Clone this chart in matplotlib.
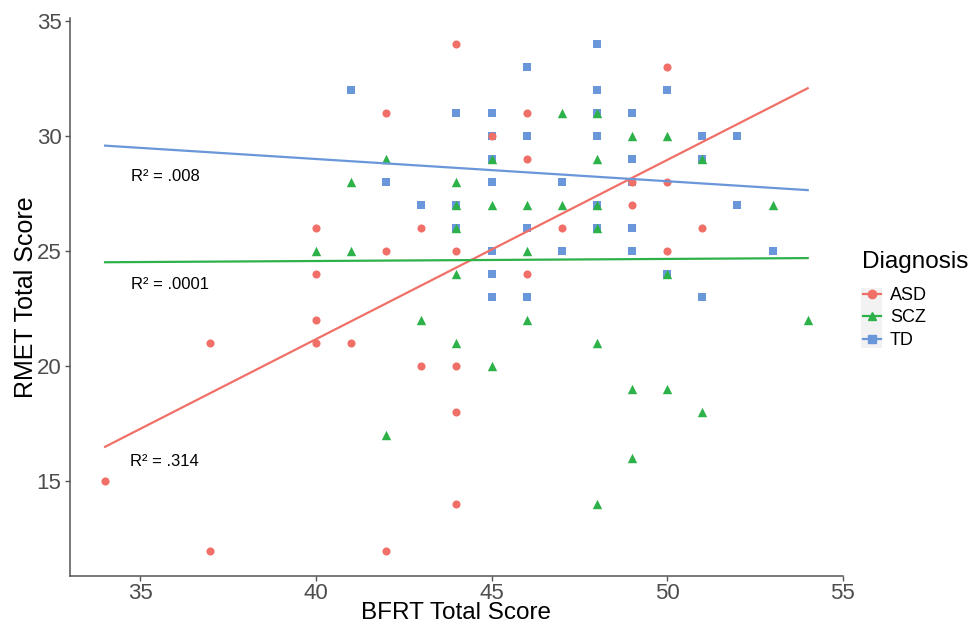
import numpy as np
import matplotlib
matplotlib.use("Agg")
import matplotlib.pyplot as plt
from matplotlib.lines import Line2D
from matplotlib.patches import Rectangle

plt.rcParams['font.family'] = ['Liberation Sans', 'DejaVu Sans']

# BFRT (x) / RMET (y) scores, per diagnosis group
asd_x = [34, 37, 37, 40, 40, 40, 40, 41, 42, 42, 42, 43, 43, 44, 44, 44, 44, 44,
         45, 46, 46, 46, 47, 49, 49, 50, 50, 50, 51]
asd_y = [15, 21, 12, 26, 24, 22, 21, 21, 31, 25, 12, 26, 20, 34, 25, 20, 18, 14,
         30, 31, 29, 24, 26, 28, 27, 33, 28, 25, 26]

scz_x = [40, 41, 41, 42, 42, 43, 44, 44, 44, 44, 44, 45, 45, 45, 46, 46, 46, 47,
         47, 48, 48, 48, 48, 48, 48, 49, 49, 49, 50, 50, 50, 51, 51, 53, 54]
scz_y = [25, 28, 25, 29, 17, 22, 28, 27, 26, 24, 21, 29, 27, 20, 27, 25, 22, 31,
         27, 31, 29, 27, 26, 21, 14, 30, 19, 16, 30, 24, 19, 29, 18, 27, 22]

td_x = [41, 42, 43, 44, 44, 44, 45, 45, 45, 45, 45, 45, 45, 46, 46, 46, 46, 47,
        47, 48, 48, 48, 48, 48, 48, 49, 49, 49, 49, 49, 50, 50, 51, 51, 51, 52,
        52, 53]
td_y = [32, 28, 27, 31, 27, 26, 31, 30, 29, 28, 25, 24, 23, 33, 30, 26, 23, 28,
        25, 34, 32, 31, 30, 27, 26, 31, 29, 28, 26, 25, 32, 24, 30, 29, 23, 30,
        27, 25]

# regression lines as drawn in the chart (fitted RMET at BFRT = 34 and 54)
fit_x = [34, 54]
asd_fit = [16.5, 32.06]
scz_fit = [24.51, 24.69]
td_fit = [29.57, 27.64]

groups = ["ASD", "SCZ", "TD"]
r2_labels = {"ASD": "R² = .314", "SCZ": "R² = .0001", "TD": "R² = .008"}
r2_pos = {"ASD": (34.7, 15.85), "SCZ": (34.75, 23.55), "TD": (34.75, 28.25)}

colors = {"ASD": "#F07068", "SCZ": "#2DB24A", "TD": "#6A96DA"}
markers = {"ASD": "o", "SCZ": "^", "TD": "s"}
sizes = {"ASD": 34, "SCZ": 46, "TD": 30}
data = {"ASD": (asd_x, asd_y), "SCZ": (scz_x, scz_y), "TD": (td_x, td_y)}
fits = {"ASD": asd_fit, "SCZ": scz_fit, "TD": td_fit}

fig = plt.figure(figsize=(9.71, 6.28), dpi=100)
ax = fig.add_axes([0.072, 0.083, 0.796, 0.888])

# TD underneath, like in the original
for g in ["TD", "ASD", "SCZ"]:
    x, y = data[g]
    ax.scatter(x, y, s=sizes[g], marker=markers[g], color=colors[g],
               linewidths=0, zorder=2)

for g in groups:
    ax.plot(fit_x, fits[g], color=colors[g], lw=1.6, zorder=3)
    ax.text(r2_pos[g][0], r2_pos[g][1], r2_labels[g], fontsize=12,
            ha='left', va='center', color='black')

ax.set_xlim(33, 55)
ax.set_ylim(10.9, 35.1)
ax.set_xticks([35, 40, 45, 50, 55])
ax.set_yticks([15, 20, 25, 30, 35])
ax.set_xlabel("BFRT Total Score", fontsize=17.5, labelpad=-1)
ax.set_ylabel("RMET Total Score", fontsize=18, labelpad=-1)

for side in ["top", "right"]:
    ax.spines[side].set_visible(False)
for side in ["left", "bottom"]:
    ax.spines[side].set_color("#555555")
    ax.spines[side].set_linewidth(1.1)
ax.tick_params(colors="#555555", labelcolor="#4D4D4D", labelsize=16,
               length=3.5, width=1.0, pad=2.5)
ax.tick_params(axis='x', pad=1.5)

# legend
fig.text(862 / 971, 1 - 262 / 628, "Diagnosis", fontsize=17.5,
         ha='left', va='center')
fig.patches.append(Rectangle((861 / 971, 1 - 348 / 628), 21 / 971, 60 / 628,
                             transform=fig.transFigure, facecolor="#F2F2F2",
                             edgecolor="none", zorder=0))
handles = [Line2D([0], [0], color=colors[g], marker=markers[g], lw=1.6,
                  markersize=6) for g in groups]
fig.legend(handles, groups, loc='upper left',
           bbox_to_anchor=(863 / 971, 1 - 287 / 628), frameon=False,
           fontsize=13, handlelength=1.0, handletextpad=0.5,
           labelspacing=0.3, borderpad=0, borderaxespad=0)

fig.savefig("out.png", dpi=100)
